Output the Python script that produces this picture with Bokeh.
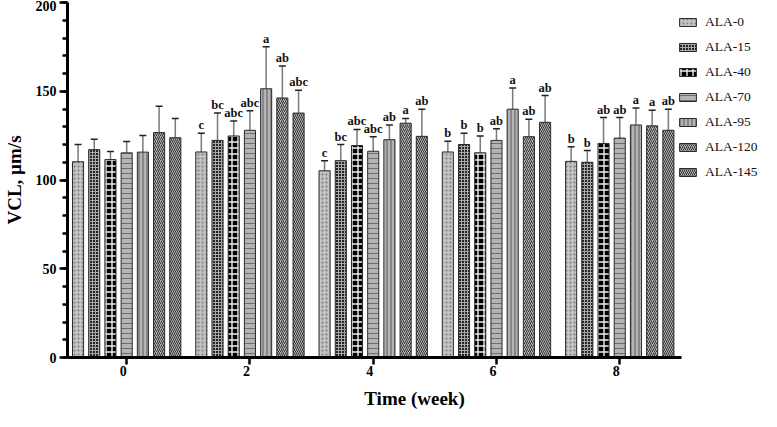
from bokeh.plotting import figure
from bokeh.models import (ColumnDataSource, Range1d, Whisker, TeeHead, FixedTicker,
                          Legend, LegendItem, SingleIntervalTicker)
from bokeh.transform import dodge
from bokeh.core.properties import value
from bokeh.embed import file_html
from bokeh.resources import INLINE

weeks = ["0", "2", "4", "6", "8"]
series = ["ALA-0", "ALA-15", "ALA-40", "ALA-70", "ALA-95", "ALA-120", "ALA-145"]

ala0_mean = [110.3, 115.8, 105.2, 115.8, 110.5]
ala15_mean = [117.1, 122.3, 110.9, 120.0, 110.0]
ala40_mean = [111.5, 124.8, 119.4, 115.3, 120.6]
ala70_mean = [115.3, 128.0, 116.2, 122.3, 123.6]
ala95_mean = [115.7, 151.4, 122.7, 139.9, 131.0]
ala120_mean = [126.7, 146.2, 132.0, 124.4, 130.5]
ala145_mean = [123.8, 137.7, 124.6, 132.5, 128.0]

ala0_sd = [9.7, 10.5, 5.7, 6.1, 8.2]
ala15_sd = [5.9, 15.4, 9.1, 6.3, 6.6]
ala40_sd = [4.5, 8.5, 9.1, 9.5, 14.6]
ala70_sd = [6.4, 11.0, 8.2, 6.6, 11.6]
ala95_sd = [9.4, 23.7, 8.3, 11.9, 9.5]
ala120_sd = [14.8, 18.0, 2.7, 9.8, 8.8]
ala145_sd = [10.9, 12.9, 15.2, 15.1, 11.9]

ala0_sig = ["", "c", "c", "b", "b"]
ala15_sig = ["", "bc", "bc", "b", "b"]
ala40_sig = ["", "abc", "abc", "b", "ab"]
ala70_sig = ["", "abc", "abc", "ab", "ab"]
ala95_sig = ["", "a", "ab", "a", "a"]
ala120_sig = ["", "ab", "a", "ab", "a"]
ala145_sig = ["", "abc", "ab", "ab", "ab"]

means = [ala0_mean, ala15_mean, ala40_mean, ala70_mean, ala95_mean, ala120_mean, ala145_mean]
sds = [ala0_sd, ala15_sd, ala40_sd, ala70_sd, ala95_sd, ala120_sd, ala145_sd]
sigs = [ala0_sig, ala15_sig, ala40_sig, ala70_sig, ala95_sig, ala120_sig, ala145_sig]

styles = [
    dict(fill_color="#c2c2c2", hatch_pattern="dot", hatch_color="#7a7a7a", hatch_scale=4),
    dict(fill_color="#262626", hatch_pattern="cross", hatch_color="#a8a8a8", hatch_scale=3,
         hatch_weight=1),
    dict(fill_color="#000000", hatch_pattern="cross", hatch_color="#eeeeee", hatch_scale=6,
         hatch_weight=1.4),
    dict(fill_color="#b4b4b4", hatch_pattern="horizontal_line", hatch_color="#6e6e6e",
         hatch_scale=5, hatch_weight=1),
    dict(fill_color="#b4b4b4", hatch_pattern="vertical_line", hatch_color="#5a5a5a",
         hatch_scale=4, hatch_weight=1),
    dict(fill_color="#b4b4b4", hatch_pattern="right_diagonal_line", hatch_color="#333333",
         hatch_scale=4, hatch_weight=1),
    dict(fill_color="#b4b4b4", hatch_pattern="left_diagonal_line", hatch_color="#333333",
         hatch_scale=4, hatch_weight=1),
]

FONT = "Liberation Serif"
group_pos = list(range(len(weeks)))

p = figure(width=761, height=411, x_range=Range1d(-0.48, 5.15),
           y_range=Range1d(0, 200), output_backend="svg", toolbar_location=None,
           min_border_left=53, min_border_right=0, min_border_top=2, min_border_bottom=0)
p.outline_line_color = None
p.xgrid.visible = False
p.ygrid.visible = False
p.background_fill_color = None
p.border_fill_color = "white"

pitch = 0.1315
bw = 0.09
items = []
for i, name in enumerate(series):
    off = (i - 3) * pitch
    upper = [m + s for m, s in zip(means[i], sds[i])]
    src = ColumnDataSource(dict(pos=group_pos, mean=means[i], upper=upper, sig=sigs[i]))
    r = p.vbar(x=dodge("pos", off), top="mean", width=bw, source=src,
               line_color="#2a2a2a", line_width=1, **styles[i])
    items.append(LegendItem(label=name, renderers=[r]))
    wk = Whisker(base=dodge("pos", off), lower="mean", upper="upper",
                 source=src, line_color="#7a7a7a", line_width=1.5,
                 upper_head=TeeHead(size=7, line_color="#222222", line_width=1.5),
                 lower_head=None)
    p.add_layout(wk)
    p.text(x=dodge("pos", off), y="upper", text="sig", source=src,
           text_align="center", text_baseline="bottom", y_offset=-1,
           text_font=value(FONT), text_font_style="bold", text_font_size="12.5px",
           text_color="#111111")

legend = Legend(items=items, location=(610, 176), border_line_color=None,
                background_fill_alpha=0, label_text_font=FONT, label_text_font_size="13.5px",
                label_text_color="#111111",
                glyph_width=21, glyph_height=10, label_height=18, spacing=7,
                label_standoff=7, padding=0, margin=0)
p.add_layout(legend, "center")

yaxis = p.yaxis[0]
yaxis.ticker = SingleIntervalTicker(interval=50, num_minor_ticks=5)
xaxis = p.xaxis[0]
xaxis.ticker = FixedTicker(ticks=group_pos, minor_ticks=[])
xaxis.major_label_overrides = {k: w for k, w in zip(group_pos, weeks)}
xaxis.bounds = (-0.48, len(weeks) - 0.5)

for ax in (xaxis, yaxis):
    ax.axis_line_width = 3
    ax.axis_line_color = "black"
    ax.major_tick_line_width = 2.5
    ax.major_tick_line_color = "black"
    ax.major_tick_in = 0
    ax.major_label_text_font = FONT
    ax.major_label_text_font_style = "bold"
    ax.major_label_text_font_size = "14px"
    ax.major_label_text_color = "black"
    ax.axis_label_text_font = FONT
    ax.axis_label_text_font_style = "bold"
    ax.axis_label_text_font_size = "19px"
    ax.axis_label_text_color = "black"

yaxis.axis_label = "VCL, µm/s"
yaxis.major_tick_out = 8
yaxis.minor_tick_out = 5
yaxis.minor_tick_in = 0
yaxis.minor_tick_line_width = 2.5
yaxis.minor_tick_line_color = "black"
yaxis.major_label_standoff = 3
yaxis.axis_label_standoff = 8

xaxis.axis_label = "Time (week)"
xaxis.major_tick_out = 7
xaxis.minor_tick_out = 0
xaxis.major_label_standoff = 6
xaxis.axis_label_standoff = 4
xaxis.major_label_orientation = 0

open("out.html", "w").write(file_html(p, INLINE))
